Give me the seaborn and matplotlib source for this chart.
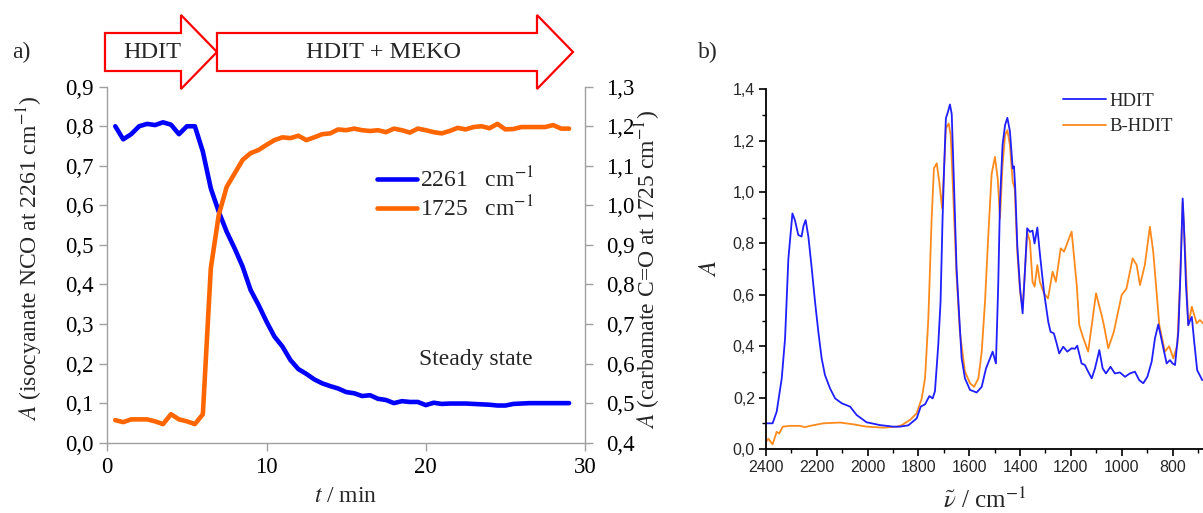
import numpy as np
import pandas as pd
import matplotlib
matplotlib.use('Agg')
import matplotlib.pyplot as plt
import seaborn as sns
from matplotlib.patches import Polygon
from matplotlib.lines import Line2D
from matplotlib.ticker import FuncFormatter, MultipleLocator

# ---------------- data: panel a) kinetics ----------------
time_min = [0.5, 1.0, 1.5, 2.0, 2.5, 3.0, 3.5, 4.0, 4.5, 5.0, 5.5, 6.0, 6.5, 7.0, 7.5,
            8.0, 8.5, 9.0, 9.5, 10.0, 10.5, 11.0, 11.5, 12.0, 12.5, 13.0, 13.5, 14.0,
            14.5, 15.0, 15.5, 16.0, 16.5, 17.0, 17.5, 18.0, 18.5, 19.0, 19.5, 20.0,
            20.5, 21.0, 21.5, 22.0, 22.5, 23.0, 23.5, 24.0, 24.5, 25.0, 25.5, 26.0,
            26.5, 27.0, 27.5, 28.0, 28.5, 29.0]
nco_2261 = [0.800, 0.767, 0.780, 0.800, 0.806, 0.803, 0.810, 0.804, 0.780, 0.800, 0.800,
            0.736, 0.643, 0.584, 0.533, 0.491, 0.445, 0.386, 0.348, 0.306, 0.268, 0.243,
            0.209, 0.186, 0.174, 0.160, 0.150, 0.143, 0.137, 0.128, 0.125, 0.118, 0.120,
            0.111, 0.108, 0.100, 0.105, 0.103, 0.103, 0.095, 0.101, 0.098, 0.099, 0.099,
            0.099, 0.098, 0.097, 0.096, 0.094, 0.094, 0.098, 0.099, 0.100, 0.100, 0.100,
            0.100, 0.100, 0.100]
co_1725 = [0.457, 0.452, 0.459, 0.459, 0.459, 0.454, 0.447, 0.472, 0.459, 0.454, 0.447,
           0.472, 0.841, 0.976, 1.047, 1.081, 1.115, 1.132, 1.140, 1.153, 1.165, 1.172,
           1.170, 1.176, 1.165, 1.172, 1.180, 1.182, 1.192, 1.190, 1.194, 1.190, 1.188,
           1.190, 1.185, 1.194, 1.190, 1.184, 1.194, 1.190, 1.185, 1.182, 1.188, 1.196,
           1.192, 1.198, 1.200, 1.195, 1.206, 1.192, 1.193, 1.198, 1.198, 1.198, 1.198,
           1.203, 1.194, 1.194]
kin_labels = ['2261   cm$^{-1}$', '1725   cm$^{-1}$']

# ---------------- data: panel b) spectra ----------------
hdit_wn = [2400, 2374, 2358, 2338, 2325, 2312, 2296, 2286, 2273, 2260, 2252, 2244, 2233, 2220,
           2207, 2194, 2181, 2168, 2148, 2128, 2102, 2069, 2043, 2004, 1951, 1899, 1873, 1840,
           1807, 1791, 1774, 1757, 1744, 1735, 1722, 1713, 1705, 1699, 1692, 1684, 1676, 1669,
           1660, 1650, 1639, 1630, 1617, 1597, 1571, 1551, 1534, 1521, 1508, 1495, 1486, 1479,
           1469, 1459, 1450, 1440, 1429, 1424, 1419, 1411, 1400, 1390, 1381, 1372, 1361, 1351,
           1343, 1332, 1322, 1306, 1289, 1280, 1267, 1256, 1246, 1230, 1214, 1197, 1184, 1175,
           1158, 1145, 1132, 1118, 1105, 1088, 1075, 1062, 1044, 1027, 1007, 987, 968, 948,
           931, 915, 899, 882, 869, 856, 847, 836, 823, 810, 800, 790, 777, 768, 760, 755,
           747, 738, 731, 724, 716, 703, 683]
hdit_A = [0.100, 0.100, 0.145, 0.275, 0.430, 0.740, 0.917, 0.890, 0.833, 0.827, 0.870, 0.891,
          0.825, 0.703, 0.573, 0.456, 0.353, 0.288, 0.236, 0.197, 0.178, 0.165, 0.132, 0.104,
          0.093, 0.087, 0.087, 0.092, 0.119, 0.165, 0.174, 0.206, 0.197, 0.225, 0.405, 0.573,
          0.898, 1.092, 1.287, 1.312, 1.341, 1.304, 1.027, 0.703, 0.508, 0.353, 0.275, 0.230,
          0.220, 0.242, 0.314, 0.346, 0.379, 0.333, 0.638, 0.962, 1.183, 1.261, 1.289, 1.237,
          1.092, 1.100, 1.014, 0.794, 0.625, 0.528, 0.690, 0.859, 0.845, 0.850, 0.800, 0.862,
          0.760, 0.612, 0.495, 0.456, 0.450, 0.411, 0.372, 0.398, 0.379, 0.392, 0.390, 0.402,
          0.333, 0.327, 0.301, 0.275, 0.314, 0.385, 0.314, 0.294, 0.320, 0.294, 0.298, 0.281,
          0.294, 0.301, 0.268, 0.256, 0.281, 0.340, 0.431, 0.485, 0.444, 0.392, 0.333, 0.346,
          0.333, 0.327, 0.456, 0.703, 0.975, 0.870, 0.638, 0.482, 0.500, 0.514, 0.431, 0.307,
          0.268]
bhdit_wn = [2400, 2391, 2374, 2358, 2348, 2334, 2306, 2266, 2247, 2227, 2174, 2109, 2056, 2004,
            1938, 1886, 1873, 1860, 1840, 1833, 1807, 1787, 1774, 1761, 1748, 1739, 1728, 1718,
            1707, 1699, 1692, 1681, 1673, 1663, 1650, 1637, 1617, 1597, 1581, 1564, 1551, 1538,
            1525, 1512, 1499, 1488, 1479, 1469, 1459, 1450, 1440, 1429, 1421, 1411, 1400, 1390,
            1381, 1372, 1361, 1351, 1343, 1332, 1322, 1306, 1290, 1272, 1259, 1240, 1227, 1197,
            1177, 1167, 1151, 1132, 1101, 1079, 1070, 1053, 1031, 1000, 981, 957, 941, 928, 909,
            889, 876, 865, 852, 830, 813, 797, 781, 771, 760, 750, 738, 724, 705, 692, 680]
bhdit_A = [0.028, 0.040, 0.018, 0.067, 0.060, 0.087, 0.090, 0.090, 0.085, 0.090, 0.100, 0.103,
           0.096, 0.087, 0.083, 0.087, 0.090, 0.096, 0.109, 0.113, 0.139, 0.197, 0.275, 0.508,
           0.898, 1.092, 1.112, 1.040, 0.937, 1.092, 1.248, 1.267, 1.222, 0.988, 0.677, 0.456,
           0.301, 0.256, 0.242, 0.275, 0.379, 0.573, 0.833, 1.070, 1.137, 1.053, 0.898, 1.105,
           1.222, 1.241, 1.183, 1.040, 1.014, 0.768, 0.612, 0.548, 0.690, 0.845, 0.807, 0.651,
           0.632, 0.716, 0.651, 0.606, 0.586, 0.690, 0.651, 0.781, 0.768, 0.846, 0.638, 0.482,
           0.431, 0.379, 0.606, 0.521, 0.482, 0.392, 0.456, 0.600, 0.625, 0.742, 0.716, 0.638,
           0.716, 0.865, 0.768, 0.638, 0.482, 0.379, 0.400, 0.353, 0.405, 0.638, 0.962, 0.768,
           0.482, 0.554, 0.489, 0.502, 0.489]
spec_labels = ['HDIT', 'B-HDIT']

# ---------------- styling ----------------
sns.set_style('ticks')
plt.rcParams['font.family'] = ['Liberation Serif', 'DejaVu Serif']
plt.rcParams['mathtext.fontset'] = 'stix'

W, H = 1203, 513
fig = plt.figure(figsize=(W / 100, H / 100), dpi=100)


def fx(px):
    return px / W


def fy(py):
    return 1 - py / H


comma = FuncFormatter(lambda v, p: f'{v:.1f}'.replace('.', ','))
GREY = '#a0a0a0'
BLUE_A, ORANGE_A = '#0000ff', '#ff6600'
BLUE_B, ORANGE_B = '#1f1fff', '#ff8a1c'

# ---------------- panel a ----------------
ax1 = fig.add_axes([fx(107.3), fy(442.7), (585 - 107.3) / W, (442.7 - 86.7) / H])
ax2 = ax1.twinx()
kin = pd.DataFrame({'t': time_min, 'nco': nco_2261, 'co': co_1725})
sns.lineplot(data=kin, x='t', y='nco', ax=ax1, color=BLUE_A, lw=3.3, estimator=None)
sns.lineplot(data=kin, x='t', y='co', ax=ax2, color=ORANGE_A, lw=3.3, estimator=None)
ax1.set_xlim(0, 30)
ax1.set_ylim(0, 0.9)
ax2.set_ylim(0.4, 1.3)
ax1.xaxis.set_major_locator(MultipleLocator(10))
ax1.yaxis.set_major_locator(MultipleLocator(0.1))
ax2.yaxis.set_major_locator(MultipleLocator(0.1))
ax1.yaxis.set_major_formatter(comma)
ax2.yaxis.set_major_formatter(comma)
for ax in (ax1, ax2):
    for s in ax.spines.values():
        s.set_visible(False)
        s.set_color(GREY)
        s.set_linewidth(1.0)
    ax.tick_params(direction='out', length=6, width=1, color=GREY, labelsize=16.5,
                   labelcolor='black', pad=4)
ax2.tick_params(axis='y', pad=9)
ax1.spines['left'].set_visible(True)
ax1.spines['bottom'].set_visible(True)
ax2.spines['right'].set_visible(True)

ax1.set_xlabel('$t$ / min', fontsize=17)
ax1.set_ylabel('$A$ (isocyanate NCO at 2261 cm$^{-1}$)', fontsize=17)
ax2.set_ylabel('$A$ (carbamate C=O at 1725 cm$^{-1}$)', fontsize=17, rotation=90)
ax1.xaxis.set_label_coords(0.5, (442.7 - 497) / 356)
ax1.xaxis.label.set_va('center')
ax1.yaxis.set_label_coords((30 - 107.3) / 477.7, (442.7 - 258) / 356)
ax1.yaxis.label.set_va('center')
ax2.yaxis.set_label_coords((648 - 107.3) / 477.7, (442.7 - 270) / 356)
ax2.yaxis.label.set_va('center')

handles = [Line2D([], [], color=BLUE_A, lw=3.3), Line2D([], [], color=ORANGE_A, lw=3.3)]
ax2.legend(handles, kin_labels, loc='upper left', bbox_to_anchor=(0.564, 0.774),
           frameon=False, fontsize=17, handlelength=1.7, handletextpad=0.15,
           labelspacing=0.15, borderpad=0, borderaxespad=0)
ax2.text((476 - 107.3) / 477.7, (442.7 - 359) / 356, 'Steady state', fontsize=17,
         ha='center', va='center', transform=ax2.transAxes)

# arrows
arrow1 = [(105, 33), (181, 33), (181, 15), (217, 52), (181, 89), (181, 71), (105, 71)]
arrow2 = [(217, 33), (537, 33), (537, 15), (573, 52), (537, 89), (537, 71), (217, 71)]
for pts in (arrow1, arrow2):
    poly = Polygon([(fx(x), fy(y)) for x, y in pts], closed=True, transform=fig.transFigure,
                   facecolor='white', edgecolor='#ff0000', lw=1.6, zorder=10)
    fig.add_artist(poly)
fig.text(fx(152), fy(52), 'HDIT', fontsize=17.5, ha='center', va='center', zorder=11)
fig.text(fx(384), fy(52), 'HDIT + MEKO', fontsize=17.5, ha='center', va='center', zorder=11)
fig.text(fx(21), fy(52), 'a)', fontsize=17, ha='center', va='center')
fig.text(fx(708), fy(52), 'b)', fontsize=17, ha='center', va='center')

# ---------------- panel b ----------------
axb = fig.add_axes([fx(766), fy(449), (1203 - 766) / W, (449 - 89.3) / H])
spec = pd.concat([
    pd.DataFrame({'wn': hdit_wn, 'A': hdit_A, 'sample': spec_labels[0]}),
    pd.DataFrame({'wn': bhdit_wn, 'A': bhdit_A, 'sample': spec_labels[1]}),
])
sns.lineplot(data=spec, x='wn', y='A', hue='sample', ax=axb, estimator=None,
             palette={spec_labels[0]: BLUE_B, spec_labels[1]: ORANGE_B}, lw=1.3,
             hue_order=spec_labels[::-1], legend=False)
axb.set_xlim(2400, 680)
axb.set_ylim(0, 1.4)
axb.xaxis.set_major_locator(MultipleLocator(200))
axb.xaxis.set_minor_locator(MultipleLocator(100))
axb.yaxis.set_major_locator(MultipleLocator(0.2))
axb.yaxis.set_minor_locator(MultipleLocator(0.1))
axb.yaxis.set_major_formatter(comma)
axb.spines['top'].set_visible(False)
axb.spines['right'].set_visible(False)
for s in ('left', 'bottom'):
    axb.spines[s].set_color('black')
    axb.spines[s].set_linewidth(1.3)
axb.tick_params(which='major', direction='out', length=5, width=1.2, color='black',
                labelsize=11.5, pad=3)
axb.tick_params(which='minor', direction='out', length=3, width=1.0, color='black')
for lab in axb.get_xticklabels() + axb.get_yticklabels():
    lab.set_family(['Liberation Sans', 'DejaVu Sans'])
axb.set_xlabel(r'$\tilde{\nu}$ / cm$^{-1}$', fontsize=18)
axb.set_ylabel('$A$', fontsize=18)
axb.xaxis.set_label_coords(0.5, (449 - 500) / 359.7)
axb.xaxis.label.set_va('center')
axb.yaxis.set_label_coords((710 - 766) / 437, (449 - 268) / 359.7)
axb.yaxis.label.set_va('center')

bh = [Line2D([], [], color=BLUE_B, lw=1.3), Line2D([], [], color=ORANGE_B, lw=1.3)]
axb.legend(bh, spec_labels, loc='upper left', bbox_to_anchor=((1063 - 766) / 437, 0.991),
           frameon=False, fontsize=13.5, handlelength=2.3, handletextpad=0.2,
           labelspacing=0.45, borderpad=0, borderaxespad=0)

fig.savefig('out.png', dpi=100)
